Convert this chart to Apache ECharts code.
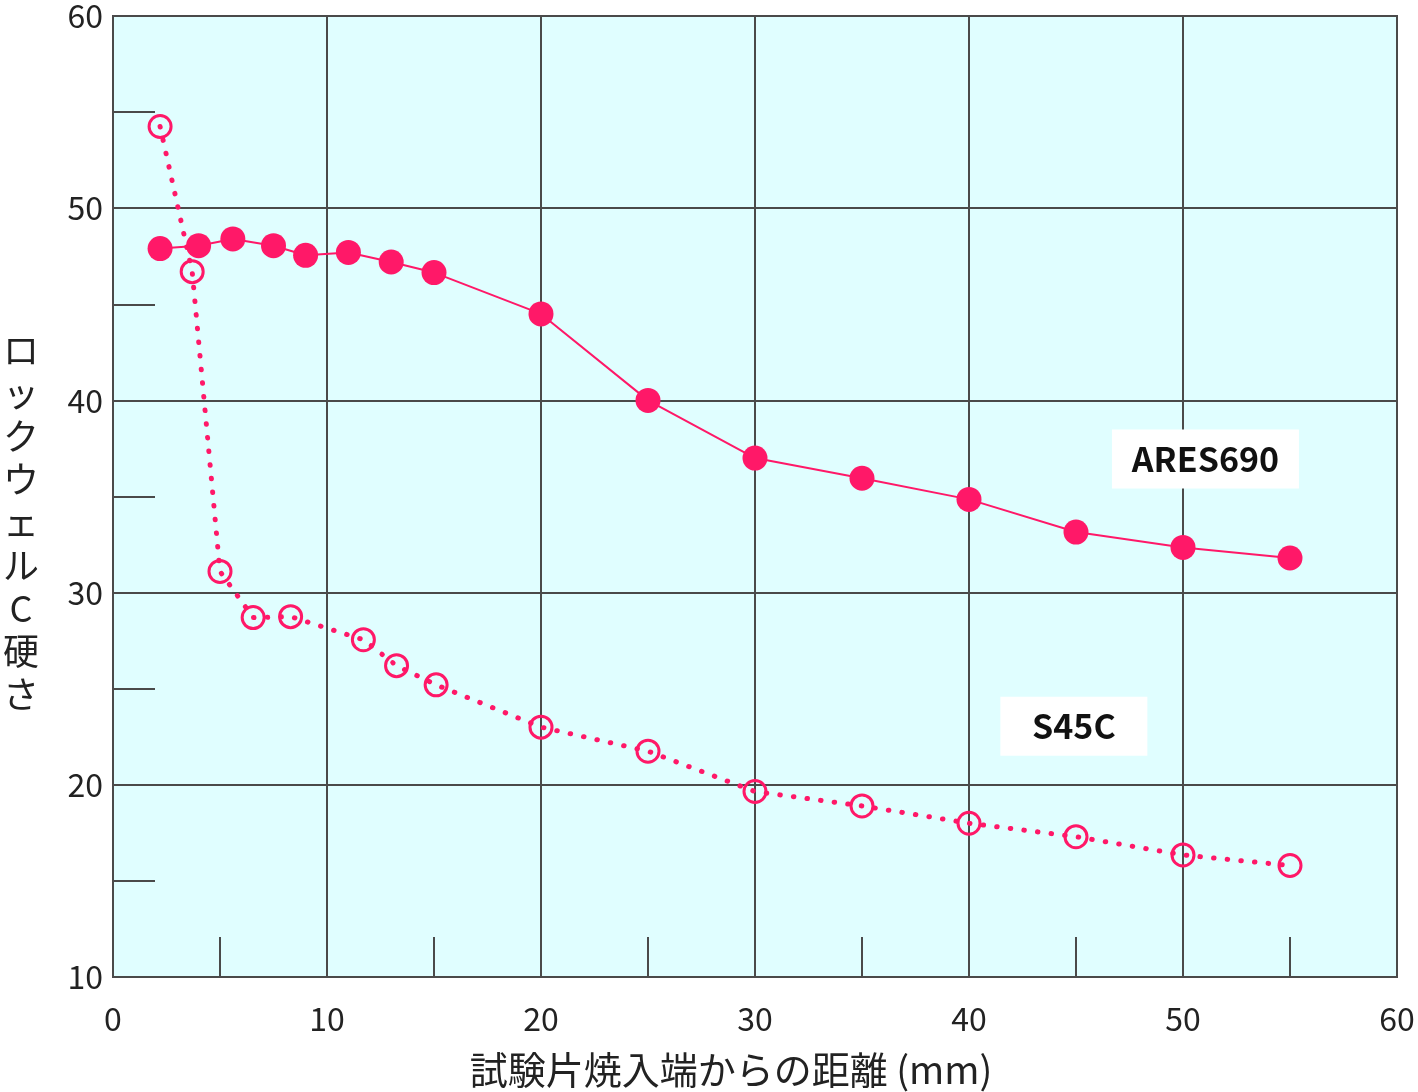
<!DOCTYPE html>
<html>
<head>
<meta charset="utf-8">
<script src="https://cdn.jsdelivr.net/npm/echarts@6/dist/echarts.min.js"></script>
<style>
  html, body { margin: 0; padding: 0; background: #fff; }
  #chart { width: 1418px; height: 1092px; }
</style>
</head>
<body>
<div id="chart"></div>
<script>
// 試験片焼入端からの距離 (mm)
var aresDist = [2.2, 4, 5.6, 7.5, 9, 11, 13, 15, 20, 25, 30, 35, 40, 45, 50, 55];
var aresHrc = [47.9, 48.05, 48.4, 48.05, 47.55, 47.7, 47.2, 46.65, 44.5, 40.0, 37.0, 35.95, 34.85, 33.15, 32.35, 31.8];
var s45cDist = [2.2, 3.7, 5.0, 6.55, 8.3, 11.7, 13.25, 15.1, 20, 25, 30, 35, 40, 45, 50, 55];
var s45cHrc = [54.25, 46.7, 31.1, 28.7, 28.75, 27.55, 26.2, 25.2, 23.0, 21.75, 19.65, 18.9, 18.0, 17.3, 16.35, 15.8];
var seriesNames = ['ARES690', 'S45C'];
var xTitle = '試験片焼入端からの距離 (mm)';
var yTitle = 'ロックウェルC硬さ';

var pink = '#FF1868';
var gridColor = '#4a4a4a';
var font = 'Noto Sans CJK JP';

function pairs(xs, ys) {
    return xs.map(function (x, i) { return [x, ys[i]]; });
}

var chart = echarts.init(document.getElementById('chart'));
chart.setOption({
    animation: false,
    textStyle: { fontFamily: font },
    grid: {
        left: 113, right: 21, top: 12.5, bottom: 115,
        show: true,
        backgroundColor: '#E0FEFF',
        borderColor: gridColor,
        borderWidth: 2
    },
    // 軸タイトル（縦書き）
    graphic: [
        {
            type: 'text',
            x: 731, y: 1070,
            style: {
                text: xTitle, fontSize: 38, fontFamily: font, fill: '#222',
                align: 'center', verticalAlign: 'middle'
            }
        },
        {
            type: 'text',
            x: 21, y: 522,
            style: {
                text: yTitle.split('').join('\n'), fontSize: 36, lineHeight: 43, fontFamily: font, fill: '#222',
                align: 'center', verticalAlign: 'middle'
            }
        }
    ],
    xAxis: {
        type: 'value',
        min: 0, max: 60, interval: 10,
        axisLine: { show: true, lineStyle: { color: gridColor, width: 2 } },
        axisTick: { show: false, inside: true },
        minorTick: { show: true, splitNumber: 2, length: 40, lineStyle: { color: gridColor, width: 2 } },
        axisLabel: { fontSize: 32, color: '#222', margin: 26, fontFamily: font },
        splitLine: { show: true, lineStyle: { color: gridColor, width: 2 } }
    },
    yAxis: {
        type: 'value',
        min: 10, max: 60, interval: 10,
        axisLine: { show: true, lineStyle: { color: gridColor, width: 2 } },
        axisTick: { show: false, inside: true },
        minorTick: { show: true, splitNumber: 2, length: 42, lineStyle: { color: gridColor, width: 2 } },
        axisLabel: { fontSize: 32, color: '#222', margin: 10, fontFamily: font },
        splitLine: { show: true, lineStyle: { color: gridColor, width: 2 } }
    },
    series: [
        {
            name: seriesNames[0],
            type: 'line',
            data: pairs(aresDist, aresHrc),
            symbol: 'circle',
            symbolSize: 25,
            itemStyle: { color: pink },
            lineStyle: { color: pink, width: 2 },
            z: 3,
            markPoint: {
                symbol: 'rect',
                symbolSize: [187, 59],
                itemStyle: { color: '#fff' },
                label: { show: true, formatter: '{b}', color: '#111', fontSize: 34, fontWeight: 'bold', fontFamily: font },
                data: [{ name: seriesNames[0], coord: [51.05, 36.95] }]
            }
        },
        {
            name: seriesNames[1],
            type: 'line',
            data: pairs(s45cDist, s45cHrc),
            symbol: 'circle',
            symbolSize: 22,
            itemStyle: { color: 'rgba(0,0,0,0)', borderColor: pink, borderWidth: 3 },
            lineStyle: { color: pink, width: 5, type: [0.5, 13.2], cap: 'round' },
            z: 2,
            markPoint: {
                symbol: 'rect',
                symbolSize: [147, 59],
                itemStyle: { color: '#fff' },
                label: { show: true, formatter: '{b}', color: '#111', fontSize: 34, fontWeight: 'bold', fontFamily: font },
                data: [{ name: seriesNames[1], coord: [44.9, 23.05] }]
            }
        }
    ]
});
window.addEventListener('resize', function () {
    chart.resize();
});
</script>
</body>
</html>
